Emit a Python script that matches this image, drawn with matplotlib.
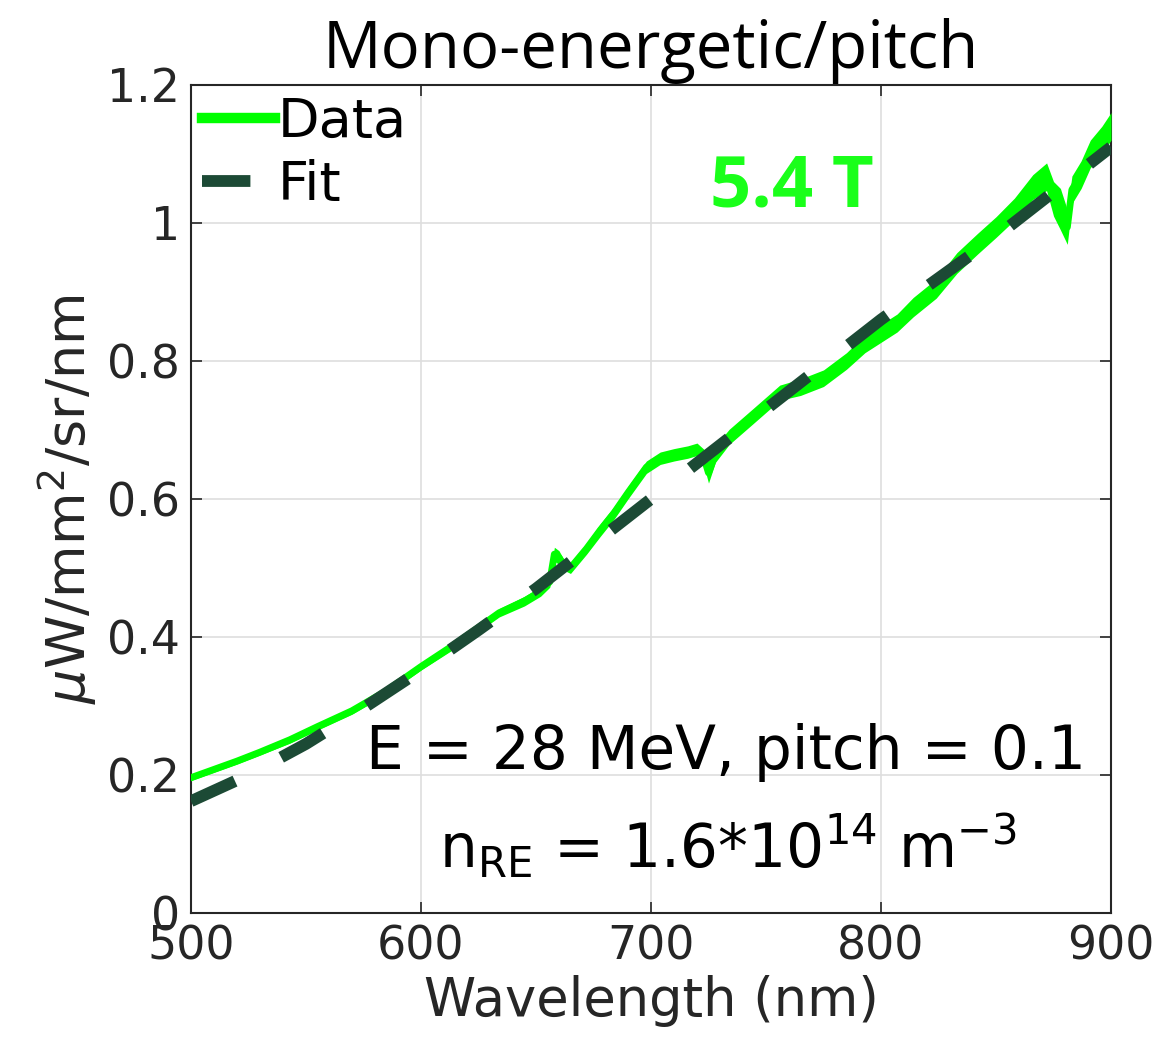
import matplotlib
matplotlib.use("Agg")
import matplotlib.pyplot as plt
import numpy as np

wl_data = [500, 510, 520, 530, 543, 555, 570, 585, 600, 615, 634, 645, 652, 656,
           658, 660, 662, 665, 672, 678, 684, 690, 698, 704, 710, 716, 720, 723,
           725, 728, 734, 744, 756, 765, 775, 785, 793, 800, 807, 814, 824, 833,
           842, 850, 858, 866, 872, 875, 878, 881, 883, 887, 891, 896, 900]
val_data = [0.196, 0.208, 0.22, 0.233, 0.251, 0.27, 0.293, 0.322, 0.357, 0.39,
            0.435, 0.452, 0.466, 0.48, 0.52, 0.515, 0.505, 0.50, 0.528, 0.555,
            0.58, 0.609, 0.646, 0.659, 0.664, 0.668, 0.672, 0.66, 0.638, 0.665,
            0.69, 0.719, 0.754, 0.762, 0.775, 0.80, 0.825, 0.84, 0.855, 0.878,
            0.905, 0.942, 0.97, 0.994, 1.02, 1.052, 1.067, 1.035, 1.02, 0.994,
            1.048, 1.07, 1.10, 1.12, 1.14]
# half width of the noisy data band
half_band = [0.004, 0.004, 0.004, 0.004, 0.005, 0.005, 0.005, 0.005, 0.005,
             0.006, 0.006, 0.007, 0.007, 0.008, 0.01, 0.01, 0.008, 0.008, 0.008,
             0.009, 0.009, 0.009, 0.009, 0.009, 0.009, 0.009, 0.009, 0.012, 0.015,
             0.012, 0.011, 0.011, 0.011, 0.012, 0.012, 0.012, 0.013, 0.013, 0.013,
             0.014, 0.014, 0.015, 0.015, 0.015, 0.016, 0.018, 0.02, 0.025, 0.03,
             0.025, 0.02, 0.02, 0.02, 0.02, 0.02]

# fit curve
wl_fit = [500, 525, 550, 575, 600, 625, 650, 675, 700, 725, 750, 775, 800, 825,
          850, 875, 900]
val_fit = [0.162, 0.20, 0.245, 0.297, 0.352, 0.41, 0.47, 0.535, 0.60, 0.665, 0.73,
           0.795, 0.86, 0.92, 0.98, 1.045, 1.11]

green = "#00ff00"
dark = "#1c4a35"

fig = plt.figure(figsize=(11.63, 10.54), dpi=100)
ax = fig.add_axes([0.1642, 0.1338, 0.7911, 0.7856])

vd = np.array(val_data)
hb = np.array(half_band)
ax.fill_between(wl_data, vd - hb, vd + hb, color=green, linewidth=0, zorder=3)
ax.plot(wl_data, val_data, color=green, linewidth=5, solid_joinstyle="round",
        zorder=3)
ax.plot([], [], color=green, linewidth=7.5, label="Data")
ax.plot(wl_fit, val_fit, color=dark, linewidth=8.5, dashes=(4.1, 4.4),
        dash_capstyle="butt", label="Fit", zorder=4)

ax.set_xlim(500, 900)
ax.set_ylim(0, 1.2)
ax.set_xticks([500, 600, 700, 800, 900])
ax.set_yticks([0, 0.2, 0.4, 0.6, 0.8, 1.0, 1.2])
ax.set_yticklabels(["0", "0.2", "0.4", "0.6", "0.8", "1", "1.2"])
ax.grid(True, color="#dedede", linewidth=1.2)
ax.set_axisbelow(True)
ax.tick_params(direction="in", length=8, width=1.2, labelsize=33,
               top=True, right=True, colors="#262626", pad=8)
for s in ax.spines.values():
    s.set_color("#262626")
    s.set_linewidth(1.5)

ax.set_xlabel("Wavelength (nm)", fontsize=38, color="#262626", labelpad=4)
ax.set_ylabel(r"$\mu$W/mm$^2$/sr/nm", fontsize=39, color="#262626", labelpad=6)
ax.set_title("Mono-energetic/pitch", fontsize=47, family="Open Sans", pad=12)

leg = ax.legend(loc="upper left", fontsize=39, frameon=False, handlelength=1.35,
                handletextpad=0.05, borderaxespad=0.1, labelspacing=0.2,
                borderpad=0.1)

ax.text(0.653, 0.876, "5.4 T", transform=ax.transAxes, fontsize=52,
        fontweight="bold", color="#1aff1a", ha="center", va="center",
        family="Open Sans")
ax.text(0.582, 0.194, "E = 28 MeV, pitch = 0.1", transform=ax.transAxes,
        fontsize=43, ha="center", va="center")
ax.text(0.584, 0.08, r"n$_{\mathrm{RE}}$ = 1.6*10$^{14}$ m$^{-3}$",
        transform=ax.transAxes, fontsize=43, ha="center", va="center")

fig.savefig("out.png", dpi=100)
